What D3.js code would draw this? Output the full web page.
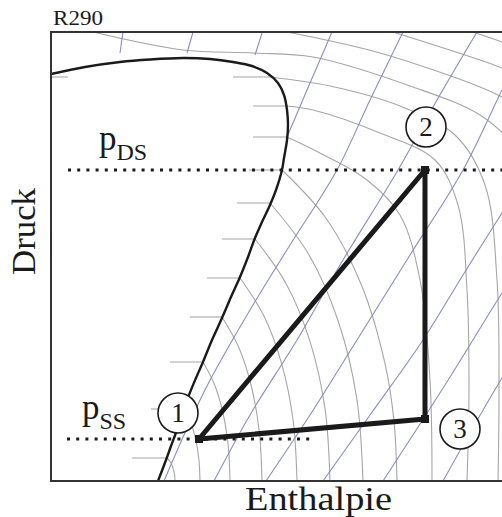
<!DOCTYPE html>
<html><head><meta charset="utf-8">
<script src="https://cdn.jsdelivr.net/npm/d3@7"></script>
<style>body{margin:0;background:#fff}text{font-family:"Liberation Serif","Times New Roman",serif;fill:#1a1a1a}</style>
</head><body>
<svg id="chart" width="502" height="517"></svg>
<script>
// ---- data (enthalpy h, pressure p in arbitrary diagram units) ----
const title = "R290";
const xLabel = "Enthalpie";
const yLabel = "Druck";
const dewH = [0,34,69,99,132,159,182,201,216,227,233,236,237,236,233,231,225,219,211,204,197,189,180,171,161,152,145,138,132,126,120,115,107];
const dewP = [407,414,419,421.5,423,422,419,415,408,398,386,371,356,341,323,311,291,276,259,243,224,204,184,163,141,119,103,86,69,51,35,21,0];
// isotherm stubs inside the two-phase region
const tickP  = [404,375,344,311,278,242,203,164,119,72,23];
const tickH0 = [182,202,202,198,186,171,156,139,119,100,81];
const tickH1 = [219,237,237,231,219,204,189,171,152,133,115];
const liqTick = [[0,404],[17,404]];
// isotherms (supercritical, from the top border)
const isoA  = [[236,449],[329,428],[429,394],[451,384],[479,369]];
const isoB  = [[342,449],[429,421],[451,413],[479,401]];
const isoC  = [[422,449],[451,439],[479,428]];
// isotherms in the vapour region
const iso0  = [[42,449],[132,431],[202,428],[262,424],[362,394],[429,366],[469,331]];
const iso1  = [[219,404],[279,395],[349,375],[404,346],[434,296],[446,201],[448,91],[447,0]];
const iso2  = [[236,375],[262,371],[329,348],[384,321],[407,276],[416,191],[418,91],[416,0]];
const iso3  = [[236,344],[269,328],[316,301],[349,266],[369,201],[379,101],[381,0]];
const iso4  = [[231,311],[274.8,263],[310,197],[334,117.4],[343,59.6],[346,0]];
const iso5  = [[219,278],[257.5,227],[287,160.5],[305.7,83],[312,0]];
const iso6  = [[204,242],[235,197.6],[259,139.7],[274,72.3],[279,0]];
const iso7  = [[189,203],[212.6,165.7],[230.7,117.2],[242.1,60.7],[246,0]];
const iso8  = [[171,164],[187.6,134],[200.3,95],[208.3,49],[211,0]];
const iso9  = [[152,119],[163.2,97.2],[171.8,68.7],[177.2,35.6],[179,0]];
const iso10 = [[133,72],[139.6,59],[144.7,41.5],[147.9,21.5],[149,0]];
const iso11 = [[116,23],[119.3,19],[121.9,13.3],[123.5,7],[124,0]];
// isentropes
const sen0 = [[72,449],[69,428]];
const sen1 = [[142,449],[136,428]];
const sen2 = [[211,448],[204,426]];
const sen3 = [[281,449],[259,398],[239,351],[236,344]];
const sen4 = [[352,449],[319,381],[286,311],[239,236],[199,171],[154,91],[113,0]];
const sen5 = [[426,449],[386,381],[347,311],[289,216],[246,141],[199,66],[163,0]];
const sen6 = [[480,449],[451,391],[412,311],[359,226],[306,141],[259,66],[215,0]];
const sen7 = [[489,326],[451,268],[412,206],[372,141],[319,66],[272,0]];
const sen8 = [[489,246],[451,188],[394,96],[332,0]];
const sen9 = [[489,161],[451,103],[392,0]];
const sen10 = [[489,61],[451,0]];
// refrigeration cycle
const cycleLabels = ["1","2","3"];
const cycleH = [148,374,374];
const cycleP = [42,311,62];
const labelH = [127,375,409];
const labelP = [68,354,52];
const pDS = 311, pSS = 42;
const pDSRange = [17,460], pSSRange = [16,262];

// ---- drawing ----
const svg = d3.select("#chart");
const x = d3.scaleLinear().domain([0,451]).range([51,502]);
const y = d3.scaleLinear().domain([0,449]).range([481,32]);
const line = d3.line().x(d=>x(d[0])).y(d=>y(d[1])).curve(d3.curveCatmullRom.alpha(0.5));
const straight = d3.line().x(d=>x(d[0])).y(d=>y(d[1]));

svg.append("defs").append("clipPath").attr("id","plot")
  .append("rect").attr("x",x(0)).attr("y",y(449)).attr("width",x(460)-x(0)).attr("height",y(0)-y(449));
const g = svg.append("g").attr("clip-path","url(#plot)");

// isotherms
const isos = [isoA,isoB,isoC,iso0,iso1,iso2,iso3,iso4,iso5,iso6,iso7,iso8,iso9,iso10,iso11];
g.selectAll(".iso").data(isos).join("path").attr("class","iso")
  .attr("d",line).attr("fill","none").attr("stroke","#a6a6a6").attr("stroke-width",1.1);
g.selectAll(".tick").data(tickP).join("line").attr("class","tick")
  .attr("x1",(d,i)=>x(tickH0[i])).attr("x2",(d,i)=>x(tickH1[i]))
  .attr("y1",d=>y(d)).attr("y2",d=>y(d)).attr("stroke","#a6a6a6").attr("stroke-width",1.1);
g.append("path").attr("d",straight(liqTick)).attr("stroke","#a6a6a6").attr("stroke-width",1.1);
// isentropes
const sens = [sen0,sen1,sen2,sen3,sen4,sen5,sen6,sen7,sen8,sen9,sen10];
g.selectAll(".sen").data(sens).join("path").attr("class","sen")
  .attr("d",line).attr("fill","none").attr("stroke","#8a8cc6").attr("stroke-width",1.1);
// dew line
g.append("path").attr("d",line(dewH.map((h,i)=>[h,dewP[i]])))
  .attr("fill","none").attr("stroke","#1a1a1a").attr("stroke-width",2.4);

// pressure levels
svg.append("line").attr("x1",x(pDSRange[0])).attr("x2",x(pDSRange[1])).attr("y1",y(pDS)).attr("y2",y(pDS))
  .attr("stroke","#1a1a1a").attr("stroke-width",3).attr("stroke-dasharray","3,6.2");
svg.append("line").attr("x1",x(pSSRange[0])).attr("x2",x(pSSRange[1])).attr("y1",y(pSS)).attr("y2",y(pSS))
  .attr("stroke","#1a1a1a").attr("stroke-width",3).attr("stroke-dasharray","3,6.2");

// cycle
const cyc = cycleH.map((h,i)=>[h,cycleP[i]]);
svg.append("path").attr("d",straight(cyc)+"Z").attr("fill","none")
  .attr("stroke","#1a1a1a").attr("stroke-width",5).attr("stroke-linejoin","round");
svg.selectAll(".pt").data(cyc).join("rect").attr("class","pt")
  .attr("x",d=>x(d[0])-4).attr("y",d=>y(d[1])-4).attr("width",8).attr("height",8).attr("fill","#1a1a1a");

// frame
svg.append("path").attr("d",`M${x(451)+5},${y(449)}H${x(0)}V${y(0)}H${x(451)+5}`)
  .attr("fill","none").attr("stroke","#333").attr("stroke-width",2);

// state labels
const lab = svg.selectAll(".lab").data(cycleLabels).join("g").attr("class","lab")
  .attr("transform",(d,i)=>`translate(${x(labelH[i])},${y(labelP[i])})`);
lab.append("circle").attr("r",20).attr("fill","#fff").attr("stroke","#1a1a1a").attr("stroke-width",1.6);
lab.append("text").text(d=>d).attr("text-anchor","middle").attr("dy","0.34em").attr("font-size",27);

// pressure labels
function pLabel(hx, py, sub){
  const t = svg.append("text").attr("x",x(hx)).attr("y",y(py));
  t.append("tspan").text("p").attr("font-size",35);
  t.append("tspan").text(sub).attr("font-size",24).attr("dy",10);
}
pLabel(48,331,"DS");
pLabel(31,62,"SS");

// titles
svg.append("text").attr("x",53).attr("y",25).attr("font-size",20).attr("textLength",50).attr("lengthAdjust","spacingAndGlyphs").text(title);
svg.append("text").attr("x",245).attr("y",510).attr("font-size",33).attr("textLength",147).attr("lengthAdjust","spacingAndGlyphs").text(xLabel);
svg.append("text").attr("transform","translate(35,275) rotate(-90)").attr("font-size",34).attr("textLength",87).attr("lengthAdjust","spacingAndGlyphs").text(yLabel);
</script>
</body></html>
